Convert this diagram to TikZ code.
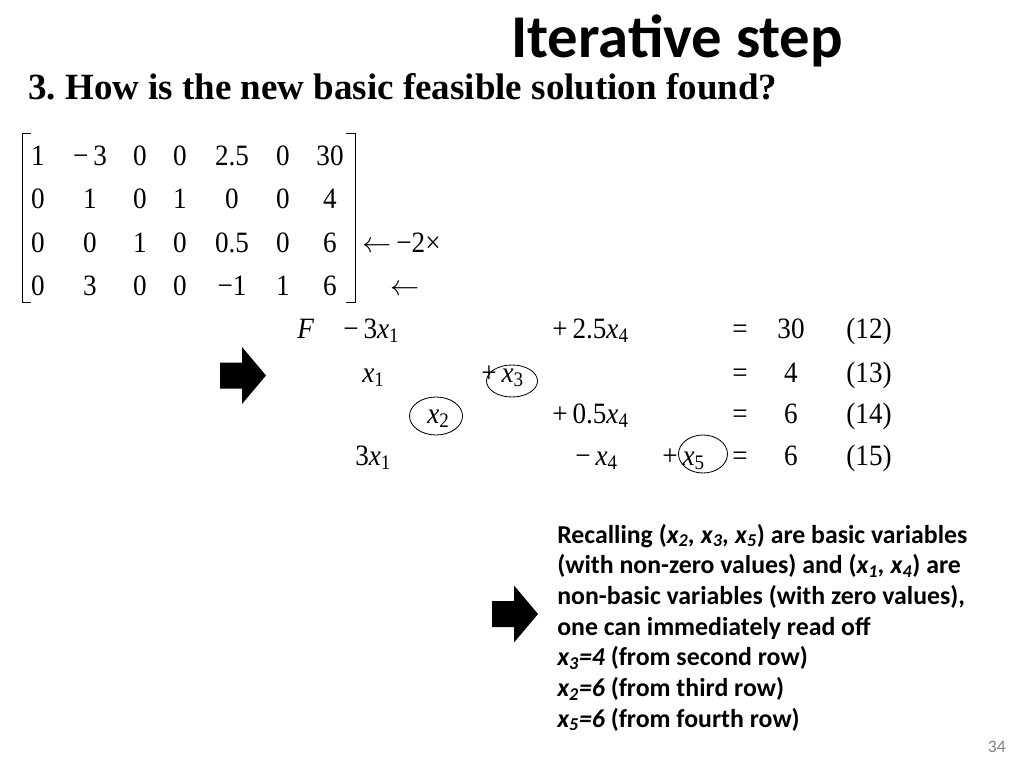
\documentclass[tikz,border=0pt]{standalone}
\usepackage{fontspec}
\usepackage{tikz}
\usetikzlibrary{positioning}
\newfontfamily\calibri{Carlito}
\newfontfamily\tnr[FakeStretch=0.92]{Liberation Serif}
\newfontfamily\tnrhead{Liberation Serif}
\newcommand{\xv}[1]{\textit{x}\textsubscript{#1}}
\frenchspacing

\tikzset{
  entry/.style={font=\tnr\fontsize{21}{25}\selectfont, anchor=base, inner sep=0pt},
  term/.style={entry, anchor=base west},
  note/.style={font=\calibri\bfseries\fontsize{18.35}{22}\selectfont, anchor=base west, inner sep=0pt},
  brk/.style={line width=0.7pt},
  basis/.style={line width=0.6pt}
}

\begin{document}
\begin{tikzpicture}[x=0.025cm, y=-0.025cm]
\useasboundingbox (0,0) rectangle (1024,768);

% Title and question
\node[font=\calibri\bfseries\fontsize{43.2}{48}\selectfont, anchor=base west, inner sep=0pt] (title) at (511,58) {Iterative step};
\node[font=\tnrhead\bfseries\fontsize{26.3}{30}\selectfont, anchor=base west, inner sep=0pt] (question) at (28,100) {3. How is the new basic feasible solution found?};

% Tableau
\foreach \r/\yb/\vals in {1/165/{1,−\,3,0,0,2.5,0,30}, 2/208/{0,1,0,1,0,0,4},
                          3/252/{0,0,1,0,0.5,0,6}, 4/295/{0,3,0,0,−1,1,6}} {
  \foreach \e [count=\c] in \vals {
    \pgfmathsetmacro\cx{{38,90,140,180,232,283,330}[\c-1]}
    \node[entry] (m\r\c) at (\cx,\yb) {\e};
  }
}
\draw[brk] (31,133) -- (22,133) -- (22,302) -- (31,302);
\draw[brk] (346,133) -- (355,133) -- (355,302) -- (346,302);
\node[term] (op3) at (362,252) {$\leftarrow$\,−2×};
\node[term] (op4) at (390,295) {$\leftarrow$};

% Block arrows
\foreach \ax/\ay in {220/375.5, 492/614} {
  \fill (\ax,\ay-13) -- (\ax+22,\ay-13) -- (\ax+22,\ay-28.5) -- (\ax+46,\ay)
     -- (\ax+22,\ay+28.5) -- (\ax+22,\ay+13) -- (\ax,\ay+13) -- cycle;
}

% Equations (12)-(15)
\node[term] (f12) at (297,338) {\textit{F}};
\node[term] (a12) at (343,338) {−\,3\xv1};
\node[term] (d12) at (552,338) {+\,2.5\xv4};
\node[term] (a13) at (362,382) {\xv1};
\node[term] (c13) at (481,382) {+\,\xv3};
\node[term] (b14) at (427,423) {\xv2};
\node[term] (d14) at (552,423) {+\,0.5\xv4};
\node[term] (a15) at (355,465) {3\xv1};
\node[term] (d15) at (575,465) {−\,\xv4};
\node[term] (e15) at (662,465) {+\,\xv5};
\foreach \yb/\rhs/\tag in {338/30/12, 382/4/13, 423/6/14, 465/6/15} {
  \node[entry] (eq\tag) at (740,\yb) {=};
  \node[entry] (rhs\tag) at (791,\yb) {\rhs};
  \node[entry] (tag\tag) at (869,\yb) {(\tag)};
}

% Basic variables
\draw[basis] (512,381) ellipse [x radius=25.5, y radius=16];
\draw[basis] (436,416) ellipse [x radius=26.5, y radius=19];
\draw[basis] (703,454) ellipse [x radius=24.5, y radius=19];

% Reading off the solution
\foreach \t [count=\i] in {
  {Recalling ({\itshape x\textsubscript{2}, x\textsubscript{3}, x\textsubscript{5}}) are basic variables},
  {(with non-zero values) and ({\itshape x\textsubscript{1}, x\textsubscript{4}}) are},
  {non-basic variables (with zero values),},
  {one can immediately read off},
  {{\itshape x\textsubscript{3}=4} (from second row)},
  {{\itshape x\textsubscript{2}=6} (from third row)},
  {{\itshape x\textsubscript{5}=6} (from fourth row)}} {
  \node[note] (note\i) at (557,{543+30.7*(\i-1)}) {\t};
}

\node[font=\calibri\fontsize{12.5}{15}\selectfont, text=black!50, anchor=base east, inner sep=0pt] (page) at (1006,752) {34};
\end{tikzpicture}
\end{document}
